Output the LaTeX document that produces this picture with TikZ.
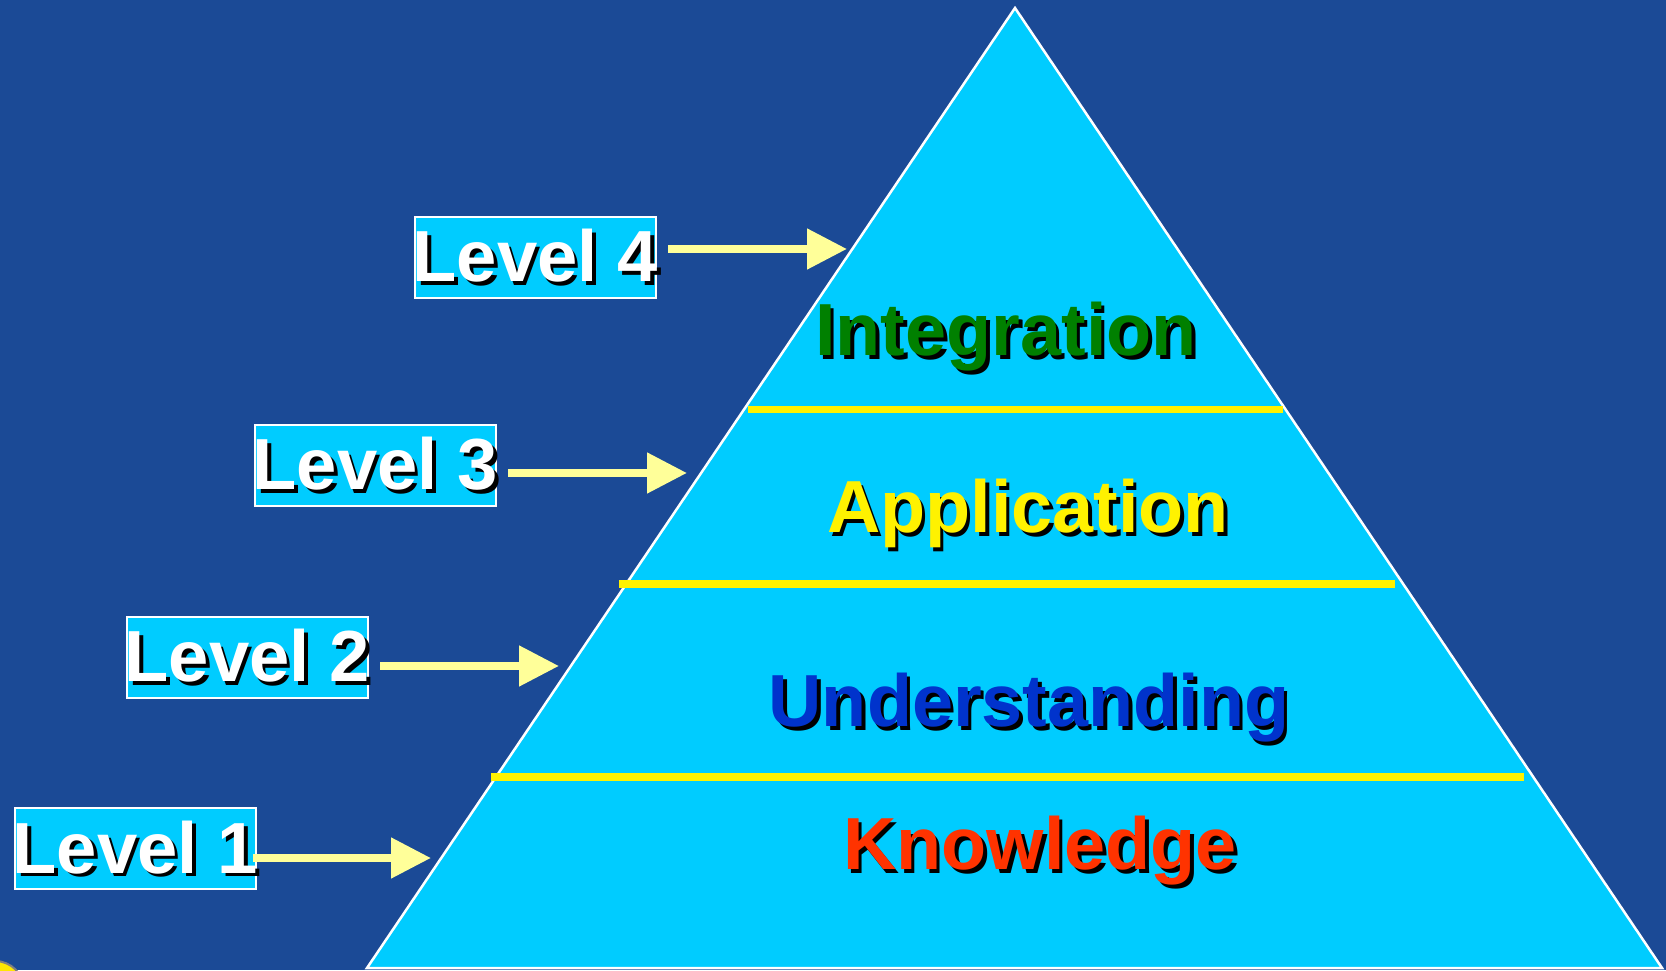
\documentclass[tikz,border=0pt]{standalone}
\usepackage{fontspec}
\setmainfont{Liberation Sans}
\usetikzlibrary{calc,arrows.meta}
\definecolor{bgblue}{RGB}{27,74,150}
\definecolor{pyrblue}{RGB}{0,204,255}
\definecolor{paleyellow}{RGB}{255,255,153}
\definecolor{darkgreen}{RGB}{0,128,0}
\definecolor{deepblue}{RGB}{0,51,204}
\definecolor{redorange}{RGB}{255,51,0}
\newcommand\shadowtxt[2]{\rlap{\hspace{0.035cm}\raisebox{-0.035cm}{\color{black}#2}}\textcolor{#1}{#2}}
\newcommand\levelname[1]{\makebox[2.41cm]{\shadowtxt{white}{#1}}}

\begin{document}
\begin{tikzpicture}[
		levelbox/.style={draw=white,line width=0.02cm,fill=pyrblue,inner sep=0pt,minimum width=2.41cm,minimum height=0.81cm,font=\bfseries\fontsize{20.6}{24}\selectfont},
		stagetxt/.style={anchor=base,inner sep=0pt,font=\bfseries\fontsize{21}{25}\selectfont},
		divider/.style={yellow,line width=0.075cm},
		pointer/.style={paleyellow,line width=0.08cm,-{Triangle[length=0.4cm,width=0.39cm]}}
	]
				\useasboundingbox (0,0) rectangle (16.66,9.70);
				\fill[bgblue] (0,0) rectangle (16.66,9.70);
				\draw[gray,fill=yellow!90!orange,line width=0.02cm] (-0.05,-0.20) circle (0.29);

				\draw[white,line width=0.025cm,fill=pyrblue] (3.67,0.02)--(10.15,9.62)--(16.62,0.02)--cycle;
				\draw[divider] (7.48,5.605)--(12.83,5.605);
				\draw[divider] (6.19,3.86)--(13.95,3.86);
				\draw[divider] (4.91,1.93)--(15.24,1.93);

				\node[stagetxt] (integ) at (10.06,6.14) {\shadowtxt{darkgreen}{Integration}};
				\node[stagetxt] (appl) at (10.28,4.37) {\shadowtxt{yellow}{Application}};
				\node[stagetxt] (under) at (10.29,2.43) {\shadowtxt{deepblue}{Understanding}};
				\node[stagetxt] (know) at (10.40,1.00) {\shadowtxt{redorange}{Knowledge}};

				\node[levelbox] (l4) at (5.355,7.125) {\levelname{Level 4}};
				\node[levelbox] (l3) at (3.755,5.045) {\levelname{Level 3}};
				\node[levelbox] (l2) at (2.475,3.125) {\levelname{Level 2}};
				\node[levelbox] (l1) at (1.355,1.21) {\levelname{Level 1}};

				\coordinate (t4) at (8.47,7.21);
				\coordinate (t3) at (6.87,4.97);
				\coordinate (t2) at (5.59,3.04);
				\coordinate (t1) at (4.31,1.12);

				\draw[pointer] ([xshift=0.11cm]l4.east |- t4)--(t4);
				\draw[pointer] ([xshift=0.11cm]l3.east |- t3)--(t3);
				\draw[pointer] ([xshift=0.11cm]l2.east |- t2)--(t2);
				\draw[pointer] ([xshift=-0.04cm]l1.east |- t1)--(t1);
\end{tikzpicture}
\end{document}
